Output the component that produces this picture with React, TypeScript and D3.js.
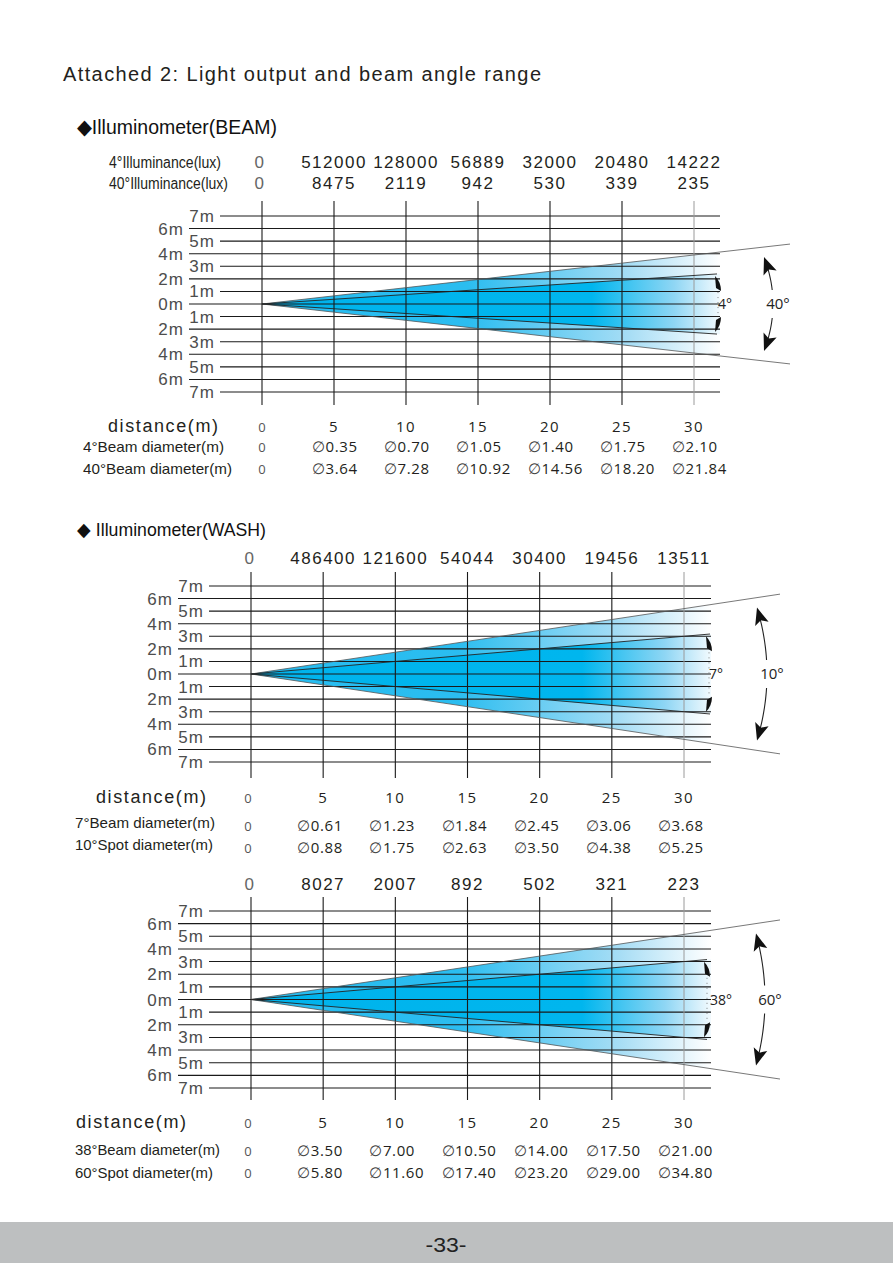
import React from 'react';
import * as d3 from 'd3';

// ---------- data ----------
const distances = [0, 5, 10, 15, 20, 25, 30];
const gridLevels = [7, 6, 5, 4, 3, 2, 1, 0, -1, -2, -3, -4, -5, -6, -7];

const beamLux4 = [0, 512000, 128000, 56889, 32000, 20480, 14222];
const beamLux40 = [0, 8475, 2119, 942, 530, 339, 235];
const beamDia4 = [0, 0.35, 0.7, 1.05, 1.4, 1.75, 2.1];
const beamDia40 = [0, 3.64, 7.28, 10.92, 14.56, 18.2, 21.84];

const washLux = [0, 486400, 121600, 54044, 30400, 19456, 13511];
const washDia7 = [0, 0.61, 1.23, 1.84, 2.45, 3.06, 3.68];
const washDia10 = [0, 0.88, 1.75, 2.63, 3.5, 4.38, 5.25];

const wideLux = [0, 8027, 2007, 892, 502, 321, 223];
const wideDia38 = [0, 3.5, 7.0, 10.5, 14.0, 17.5, 21.0];
const wideDia60 = [0, 5.8, 11.6, 17.4, 23.2, 29.0, 34.8];

// drawn cone half-height (grid metres) at 30 m: inner / outer beam
const coneInner = [2.27, 3.0, 3.0];
const coneOuter = [3.9, 5.2, 5.15];
const innerAngles = ['4°', '7°', '38°'];
const outerAngles = ['40°', '10°', '60°'];

const luxLabels = ['4°Illuminance(lux)', '40°Illuminance(lux)'];
const diaLabels = [
  ['4°Beam diameter(m)', '40°Beam diameter(m)'],
  ['7°Beam diameter(m)', '10°Spot diameter(m)'],
  ['38°Beam diameter(m)', '60°Spot diameter(m)'],
];

// ---------- layout ----------
const layouts = [
  {
    xr: [262, 694], yr: [216, 392], vTop: 201, vBottom: 405, gridEnd: 720, innerEnd: 717, outerEnd: 790,
    markX: 715, innerLabelX: 718, arcMidX: 773, arcEndX: 764,
    luxY: [168, 189], luxLabelX: 109, luxLabelLen: [112, 119],
    distY: 432, distLabelX: 108, diaY: [452, 474], diaLabelY: [452, 474], diaLabelX: 83, diaLabelLen: [141, 149],
    diaOffset: -22, zeroX: 262, topZeroX: 260,
  },
  {
    xr: [251, 684], yr: [586, 762], vTop: 572, vBottom: 778, gridEnd: 711, innerEnd: 710, outerEnd: 780,
    markX: 706, innerLabelX: 709, arcMidX: 767, arcEndX: 757,
    luxY: [564], luxLabelX: 0, luxLabelLen: [],
    distY: 803, distLabelX: 96, diaY: [831, 853], diaLabelY: [828, 850], diaLabelX: 75, diaLabelLen: [140, 138],
    diaOffset: -26, zeroX: 248, topZeroX: 250,
  },
  {
    xr: [251, 684], yr: [911, 1088], vTop: 897, vBottom: 1100, gridEnd: 711, innerEnd: 707, outerEnd: 780,
    markX: 704, innerLabelX: 710, arcMidX: 765, arcEndX: 756,
    luxY: [890], luxLabelX: 0, luxLabelLen: [],
    distY: 1128, distLabelX: 76, diaY: [1156, 1178], diaLabelY: [1155, 1178], diaLabelX: 75, diaLabelLen: [145, 138],
    diaOffset: -26, zeroX: 248, topZeroX: 250,
  },
];

const SANS = '"Liberation Sans", Arial, sans-serif';
const NARROW = '"Liberation Sans Narrow", "Arial Narrow", "Liberation Sans", sans-serif';
const OPEN = '"Open Sans", "DejaVu Sans", sans-serif';

const fmtNum = d3.format('.2f');

function Panel({ idx, lux, dias }: { idx: number; lux: number[][]; dias: number[][] }) {
  const L: any = layouts[idx];
  const x = d3.scaleLinear().domain([0, 30]).range(L.xr);
  const y = d3.scaleLinear().domain([7, -7]).range(L.yr);
  const x0 = x(0);
  const y0 = y(0);
  const sIn = coneInner[idx];
  const sOut = coneOuter[idx];
  const coneY = (s: number, px: number) => y((s * x.invert(px)) / 30);
  const fillEnd = L.gridEnd;

  const poly = (s: number, end: number) =>
    `M${x0},${y0}L${end},${coneY(s, end)}L${end},${coneY(-s, end)}Z`;

  // outer arc
  const ty = coneY(sOut, L.arcEndX) + 10;
  const by = coneY(-sOut, L.arcEndX) - 10;
  const w = L.arcMidX - L.arcEndX;
  const arcX = (yy: number) => {
    const h = yy < y0 ? y0 - ty : by - y0;
    return L.arcMidX - w * Math.pow((yy - y0) / h, 2);
  };
  const line = d3.line<number>().x((yy) => arcX(yy)).y((yy) => yy);
  const seg = (a: number, b: number) => line(d3.range(0, 21).map((i) => a + ((b - a) * i) / 20)) as string;
  const dart = (tipY: number, dir: number) => {
    const h = dir < 0 ? y0 - ty : by - y0;
    let ux = (-2 * w) / h;
    let uy = dir;
    const n = Math.hypot(ux, uy);
    ux /= n;
    uy /= n;
    const tx = arcX(tipY);
    const Lh = 17, Wh = 7;
    const bx = tx - ux * Lh, byy = tipY - uy * Lh;
    const nx = -uy, ny = ux;
    const mx = tx - ux * Lh * 0.78, my = tipY - uy * Lh * 0.78;
    return `M${tx},${tipY}L${bx + nx * Wh},${byy + ny * Wh}L${mx},${my}L${bx - nx * Wh},${byy - ny * Wh}Z`;
  };

  // inner markers
  const mX = L.markX;
  const tTop = coneY(sIn, mX) + 2;
  const tBot = coneY(-sIn, mX) - 2;

  return (
    <g>
      <defs>
        <linearGradient id={`gOut${idx}`} gradientUnits="userSpaceOnUse" x1={x0} x2={fillEnd} y1={0} y2={0}>
          <stop offset="0" stopColor="#26bcf0" />
          <stop offset="0.45" stopColor="#2bbdf0" />
          <stop offset="0.8" stopColor="#a6ddf5" />
          <stop offset="1" stopColor="#ffffff" />
        </linearGradient>
        <linearGradient id={`gIn${idx}`} gradientUnits="userSpaceOnUse" x1={x0} x2={fillEnd} y1={0} y2={0}>
          <stop offset="0" stopColor="#00b3ec" />
          <stop offset="0.72" stopColor="#00b6ee" />
          <stop offset="0.9" stopColor="#8fd6f4" />
          <stop offset="1" stopColor="#f2fafe" />
        </linearGradient>
      </defs>

      {/* beam fills */}
      <path d={poly(sOut, fillEnd)} fill={`url(#gOut${idx})`} />
      <path d={poly(sIn, fillEnd)} fill={`url(#gIn${idx})`} />

      {/* horizontal grid */}
      {gridLevels.map((v) => {
        const odd = Math.abs(v) % 2 === 1;
        const yy = y(v);
        return (
          <g key={v}>
            <line x1={odd ? x0 - 42 : x0 - 73} x2={L.gridEnd} y1={yy} y2={yy} stroke="#1a1a1a" strokeWidth={1.1} />
            <text
              x={odd ? x0 - 47 : x0 - 78}
              y={yy + 6}
              textAnchor="end"
              fontFamily={SANS}
              fontSize={17}
              letterSpacing={1}
              fill="#4d4d4d"
            >
              {Math.abs(v)}m
            </text>
          </g>
        );
      })}

      {/* vertical grid */}
      {distances.map((d) => (
        <line
          key={d}
          x1={x(d)}
          x2={x(d)}
          y1={L.vTop}
          y2={L.vBottom}
          stroke={d === 30 ? '#9a9a9a' : '#1a1a1a'}
          strokeWidth={d === 30 ? 1 : 1.1}
        />
      ))}

      {/* beam edges */}
      <path
        d={`M${L.outerEnd},${coneY(sOut, L.outerEnd)}L${x0},${y0}L${L.outerEnd},${coneY(-sOut, L.outerEnd)}`}
        fill="none"
        stroke="#555"
        strokeWidth={0.8}
      />
      <path
        d={`M${L.innerEnd},${coneY(sIn, L.innerEnd)}L${x0},${y0}L${L.innerEnd},${coneY(-sIn, L.innerEnd)}`}
        fill="none"
        stroke="#222"
        strokeWidth={0.9}
      />

      {/* inner angle markers */}
      <path d={`M${mX},${tTop}Q${mX + 6},${tTop + 6} ${mX + 6},${tTop + 15}L${mX + 1},${tTop + 12}Z`} fill="#111" />
      <path d={`M${mX},${tBot}Q${mX + 6},${tBot - 6} ${mX + 6},${tBot - 15}L${mX + 1},${tBot - 12}Z`} fill="#111" />
      <line x1={mX + 3} x2={mX + 3} y1={tTop + 16} y2={tBot - 16} stroke="#666" strokeWidth={0.8} strokeDasharray="1 4" />
      <text x={L.innerLabelX} y={y0 + 5} fontFamily={OPEN} fontSize={14} fill="#222">
        {innerAngles[idx]}
      </text>

      {/* outer angle arc */}
      <path d={seg(ty + 8, y0 - 14)} fill="none" stroke="#222" strokeWidth={1.1} />
      <path d={seg(y0 + 14, by - 8)} fill="none" stroke="#222" strokeWidth={1.1} />
      <path d={dart(ty, -1)} fill="#111" />
      <path d={dart(by, 1)} fill="#111" />
      <text x={L.arcMidX + 5} y={y0 + 5} textAnchor="middle" fontFamily={OPEN} fontSize={15} fill="#222">
        {outerAngles[idx]}
      </text>

      {/* illuminance rows */}
      {lux.map((row, r) => (
        <g key={r}>
          {idx === 0 && (
            <text
              x={L.luxLabelX}
              y={L.luxY[r]}
              fontFamily={NARROW}
              fontSize={16}
              fill="#231f20"
              textLength={L.luxLabelLen[r]}
              lengthAdjust="spacingAndGlyphs"
            >
              {luxLabels[r]}
            </text>
          )}
          {row.map((v, i) => (
            <text
              key={i}
              x={i === 0 ? L.topZeroX : x(distances[i])}
              y={L.luxY[r]}
              textAnchor="middle"
              fontFamily={SANS}
              fontSize={17}
              letterSpacing={1.5}
              fill={i === 0 ? '#666' : '#231f20'}
            >
              {String(v)}
            </text>
          ))}
        </g>
      ))}

      {/* distance row */}
      <text
        x={L.distLabelX}
        y={L.distY}
        fontFamily={SANS}
        fontSize={18}
        fill="#231f20"
        textLength={110}
        lengthAdjust="spacing"
      >
        distance(m)
      </text>
      {distances.map((d, i) => (
        <text
          key={d}
          x={i === 0 ? L.zeroX : x(d)}
          y={L.distY}
          textAnchor="middle"
          fontFamily={OPEN}
          fontSize={i === 0 ? 13 : 15}
          letterSpacing={i === 0 ? 0 : 1.5}
          fill={i === 0 ? '#555' : '#231f20'}
        >
          {d}
        </text>
      ))}

      {/* diameter rows */}
      {dias.map((row, r) => (
        <g key={r}>
          <text
            x={L.diaLabelX}
            y={L.diaLabelY[r]}
            fontFamily={NARROW}
            fontSize={15}
            fill="#231f20"
            textLength={L.diaLabelLen[r]}
            lengthAdjust="spacingAndGlyphs"
          >
            {diaLabels[idx][r]}
          </text>
          {row.map((v, i) =>
            i === 0 ? (
              <text
                key={i}
                x={L.zeroX}
                y={L.diaY[r]}
                textAnchor="middle"
                fontFamily={OPEN}
                fontSize={13}
                fill="#555"
              >
                0
              </text>
            ) : (
              <text
                key={i}
                x={x(distances[i]) + L.diaOffset}
                y={L.diaY[r]}
                fontFamily={OPEN}
                fontSize={15}
                letterSpacing={0.6}
                fill="#231f20"
              >
                <tspan fontFamily='"DejaVu Sans", sans-serif' fontSize={15} fontWeight={300} fill="#444">
                  {'\u2205'}
                </tspan>
                {fmtNum(v)}
              </text>
            )
          )}
        </g>
      ))}
    </g>
  );
}

export default function App() {
  return (
    <svg
      width={893}
      height={1263}
      viewBox="0 0 893 1263"
      style={{ position: 'absolute', left: 0, top: 0, background: '#fff' }}
    >
      <rect x={0} y={0} width={893} height={1263} fill="#fff" />
      <text x={63} y={81} fontFamily={SANS} fontSize={20} fill="#231f20" textLength={478} lengthAdjust="spacing">
        Attached 2: Light output and beam angle range
      </text>
      <text
        x={77}
        y={134}
        fontFamily={NARROW}
        fontSize={21}
        fill="#111"
        textLength={200}
        lengthAdjust="spacingAndGlyphs"
      >
        ◆Illuminometer(BEAM)
      </text>
      <text
        x={77}
        y={536}
        fontFamily={NARROW}
        fontSize={19}
        fill="#111"
        textLength={189}
        lengthAdjust="spacingAndGlyphs"
      >
        ◆ Illuminometer(WASH)
      </text>

      <Panel idx={0} lux={[beamLux4, beamLux40]} dias={[beamDia4, beamDia40]} />
      <Panel idx={1} lux={[washLux]} dias={[washDia7, washDia10]} />
      <Panel idx={2} lux={[wideLux]} dias={[wideDia38, wideDia60]} />

      <rect x={0} y={1222} width={893} height={41} fill="#bdbfc0" />
      <text
        x={446}
        y={1252}
        textAnchor="middle"
        fontFamily={NARROW}
        fontSize={21}
        fill="#222"
        textLength={41}
        lengthAdjust="spacingAndGlyphs"
      >
        -33-
      </text>
    </svg>
  );
}
